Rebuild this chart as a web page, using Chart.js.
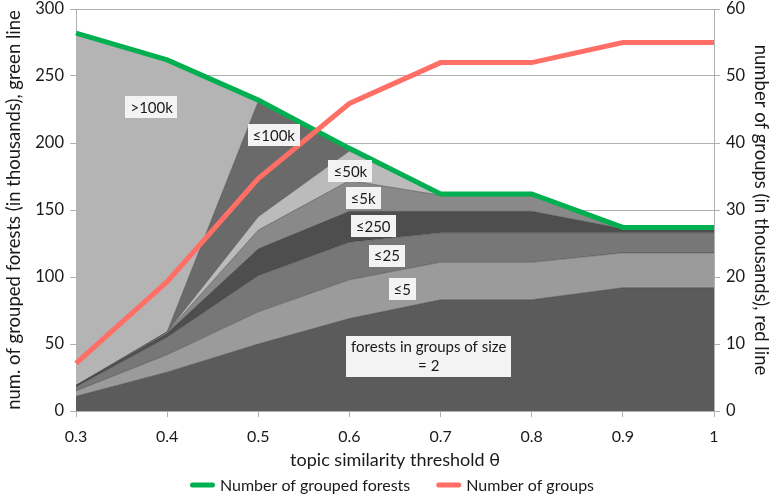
<!DOCTYPE html>
<html>
<head>
<meta charset="utf-8">
<script src="https://cdn.jsdelivr.net/npm/chart.js@4.4.1/dist/chart.umd.min.js"></script>
<style>
  html, body { margin: 0; padding: 0; background: #ffffff; }
  #wrap { position: relative; width: 774px; height: 499px; }
</style>
</head>
<body>
<div id="wrap"><canvas id="chart"></canvas></div>
<script>
// Topic similarity thresholds (x axis)
const thresholds = ['0.3', '0.4', '0.5', '0.6', '0.7', '0.8', '0.9', '1'];

// Grouped forests (thousands) split by the size of the group they fall in
const sizeEq2   = [11, 29, 50, 69, 83, 83, 92, 92];
const sizeLe5   = [4, 13, 24, 29, 28, 28, 26, 26];
const sizeLe25  = [3, 13, 27, 28, 22, 22, 15, 15];
const sizeLe250 = [1, 3, 20, 23, 16, 16, 3, 3];
const sizeLe5k  = [0, 1, 14, 23, 12, 13, 1, 1];
const sizeLe50k = [0, 0, 10, 22, 0, 0, 0, 0];
const sizeLe100k = [0, 0, 86, 1, 0, 0, 0, 0];
const sizeGt100k = [263, 203, 1, 0, 0, 0, 0, 0];

// Totals (thousands)
const groupedForests = [282, 262, 232, 196, 162, 162, 137, 137];
const groupCount = [7.1, 19.3, 34.7, 45.9, 52, 52, 55, 55];

// Axis ticks
const leftTicks = [0, 50, 100, 150, 200, 250, 300];
const rightTicks = [0, 10, 20, 30, 40, 50, 60];

const FONT = 'Lato, "Open Sans", sans-serif';
const TEXT = '#1a1a1a';

const layers = [
  { label: 'forests in groups of size = 2', data: sizeEq2, color: '#5b5b5b' },
  { label: '≤5', data: sizeLe5, color: '#9b9b9b' },
  { label: '≤25', data: sizeLe25, color: '#777777' },
  { label: '≤250', data: sizeLe250, color: '#4e4e4e' },
  { label: '≤5k', data: sizeLe5k, color: '#898989' },
  { label: '≤50k', data: sizeLe50k, color: '#bbbbbb' },
  { label: '≤100k', data: sizeLe100k, color: '#6a6a6a' },
  { label: '>100k', data: sizeGt100k, color: '#b4b4b4' }
];

// Text boxes inside the layers: [text lines, x (category index), y (thousands)]
const layerNotes = [
  [['>100k'], 0.83, 227],
  [['≤100k'], 2.17, 206],
  [['≤50k'], 3.01, 179],
  [['≤5k'], 3.15, 159],
  [['≤250'], 3.26, 138],
  [['≤25'], 3.41, 116],
  [['≤5'], 3.58, 91],
  [['forests in groups of size', '= 2'], 3.87, 41]
];

const areaSets = layers.map((l, i) => ({
  label: l.label,
  data: l.data,
  yAxisID: 'y',
  stack: 'sizes',
  backgroundColor: l.color,
  borderColor: 'rgba(60,60,60,0.6)',
  borderWidth: 0.8,
  pointRadius: 0,
  tension: 0,
  fill: i === 0 ? 'origin' : '-1',
  order: 2 + i
}));

const noteBoxes = {
  id: 'noteBoxes',
  afterDatasetsDraw(chart) {
    const { ctx, scales } = chart;
    ctx.save();
    ctx.font = '15px ' + FONT;
    ctx.textAlign = 'center';
    ctx.textBaseline = 'middle';
    layerNotes.forEach(([lines, xi, yv]) => {
      const cx = scales.x.getPixelForValue(xi);
      const cy = scales.y.getPixelForValue(yv);
      const lh = 19;
      const w = Math.max(...lines.map(t => ctx.measureText(t).width)) + 10;
      const h = lines.length * lh + 3;
      ctx.fillStyle = '#f3f3f3';
      ctx.fillRect(Math.round(cx - w / 2), Math.round(cy - h / 2), Math.round(w), Math.round(h));
      ctx.fillStyle = TEXT;
      lines.forEach((t, k) => {
        ctx.fillText(t, cx, cy - (lines.length - 1) * lh / 2 + k * lh + 1);
      });
    });
    ctx.restore();
  }
};

// Legend row for the two total lines, drawn under the axis title
const lineLegend = {
  id: 'lineLegend',
  afterDraw(chart) {
    const { ctx } = chart;
    const items = chart.data.datasets.slice(0, 2);
    const sample = 25, gapAfterSample = 5, gapBetween = 26;
    ctx.save();
    ctx.font = '16px ' + FONT;
    ctx.textBaseline = 'middle';
    ctx.textAlign = 'left';
    const widths = items.map(d => sample + gapAfterSample + ctx.measureText(d.label).width);
    const total = widths.reduce((a, b) => a + b, 0) + gapBetween * (items.length - 1);
    let x = (chart.width - total) / 2 + 5;
    const y = chart.height - 14;
    items.forEach((d, i) => {
      ctx.strokeStyle = d.borderColor;
      ctx.lineWidth = 5;
      ctx.lineCap = 'round';
      ctx.beginPath();
      ctx.moveTo(x + 2.5, y);
      ctx.lineTo(x + sample - 2.5, y);
      ctx.stroke();
      ctx.fillStyle = TEXT;
      ctx.fillText(d.label, x + sample + gapAfterSample, y + 1);
      x += widths[i] + gapBetween;
    });
    ctx.restore();
  }
};

// Vertical axes: fixed width, no extra room reserved for the end tick labels
const fitVertical = width => s => {
  s.width = width;
  s.paddingTop = 0;
  s.paddingBottom = 0;
};

new Chart(document.getElementById('chart'), {
  type: 'line',
  data: {
    labels: thresholds,
    datasets: [
      {
        label: 'Number of grouped forests',
        data: groupedForests,
        yAxisID: 'y',
        stack: 'total',
        borderColor: '#00b050',
        backgroundColor: '#00b050',
        borderWidth: 5,
        pointRadius: 0,
        fill: false,
        tension: 0,
        order: 1
      },
      {
        label: 'Number of groups',
        data: groupCount,
        yAxisID: 'y1',
        borderColor: '#ff6f66',
        backgroundColor: '#ff6f66',
        borderWidth: 5,
        pointRadius: 0,
        fill: false,
        tension: 0,
        order: 0
      },
      ...areaSets
    ]
  },
  options: {
    responsive: true,
    maintainAspectRatio: false,
    animation: false,
    layout: { padding: { top: 9, left: 0, right: 0, bottom: 28 } },
    plugins: {
      tooltip: { enabled: false },
      legend: { display: false }
    },
    scales: {
      x: {
        type: 'category',
        offset: false,
        afterFit: s => { s.height = 60; },
        grid: { display: true, drawOnChartArea: false, drawTicks: true, tickLength: 6, color: '#b0b0b0' },
        border: { color: '#b0b0b0' },
        ticks: { font: { family: FONT, size: 16 }, color: TEXT, padding: 10, maxRotation: 0 },
        title: { display: true, text: 'topic similarity threshold θ', font: { family: FONT, size: 18 }, color: TEXT, padding: { top: 4, bottom: 0 } }
      },
      y: {
        position: 'left',
        stacked: true,
        min: 0,
        max: 300,
        afterBuildTicks: s => { s.ticks = leftTicks.map(v => ({ value: v })); },
        afterFit: fitVertical(76),
        grid: { color: '#b0b0b0', tickLength: 6 },
        border: { color: '#b0b0b0' },
        ticks: { font: { family: FONT, size: 16.5 }, color: TEXT, padding: 6 },
        title: { display: true, text: 'num. of grouped forests (in thousands), green line', font: { family: FONT, size: 18.5 }, color: TEXT, padding: { top: 3, bottom: 2 } }
      },
      y1: {
        position: 'right',
        min: 0,
        max: 60,
        afterBuildTicks: s => { s.ticks = rightTicks.map(v => ({ value: v })); },
        afterFit: fitVertical(60),
        grid: { drawOnChartArea: false, color: '#b0b0b0', tickLength: 6 },
        border: { color: '#b0b0b0' },
        ticks: { font: { family: FONT, size: 16.5 }, color: TEXT, padding: 6 },
        title: { display: true, text: 'number of groups (in thousands), red line', font: { family: FONT, size: 18.5 }, color: TEXT, padding: { top: 2, bottom: 0 } }
      }
    }
  },
  plugins: [noteBoxes, lineLegend]
});
</script>
</body>
</html>
